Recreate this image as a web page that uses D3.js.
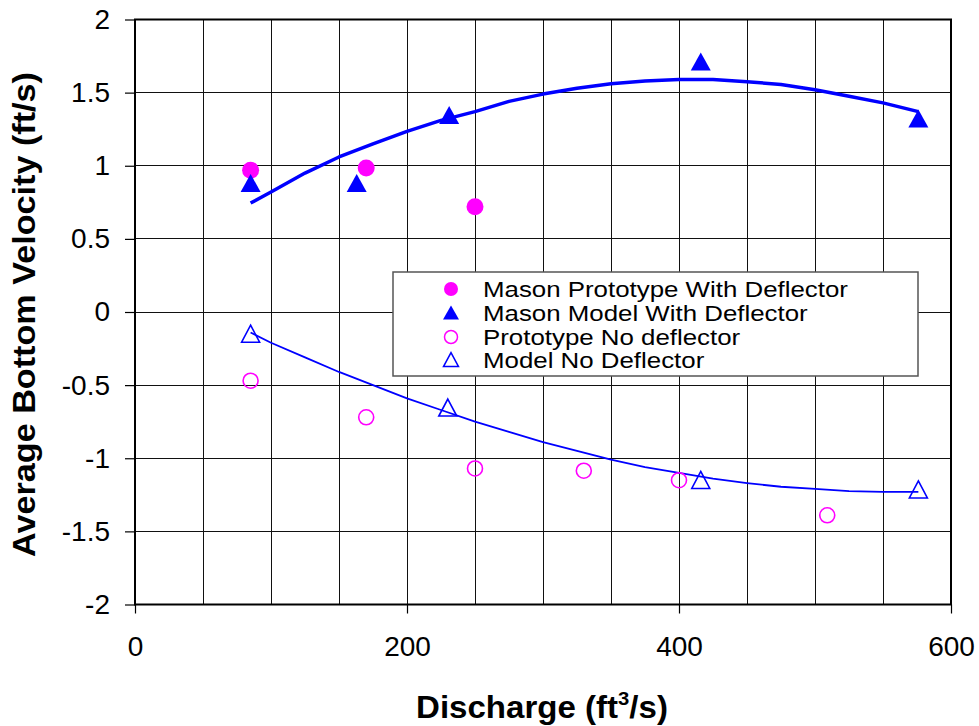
<!DOCTYPE html>
<html>
<head>
<meta charset="utf-8">
<script src="https://cdn.jsdelivr.net/npm/d3@7"></script>
<style>
  html, body { margin: 0; padding: 0; background: #fff; }
  svg { display: block; font-family: "Liberation Sans", Arial, sans-serif; }
</style>
</head>
<body>
<svg id="chart" width="979" height="726"></svg>
<script>
// ---- data ----
const protoWithX = [85, 170, 250];
const protoWithY = [0.97, 0.985, 0.72];

const modelWithX = [85, 163, 231, 416, 576];
const modelWithY = [0.87, 0.87, 1.335, 1.70, 1.31];

const protoNoX = [85, 170, 250, 330, 400, 509];
const protoNoY = [-0.47, -0.72, -1.07, -1.085, -1.15, -1.39];

const modelNoX = [85, 230, 416, 576];
const modelNoY = [-0.16, -0.665, -1.16, -1.225];

// trend lines
const trendWithX = [85, 100, 125, 150, 175, 200, 225, 250, 275, 300, 325, 350, 375, 400, 425, 450, 475, 500, 525, 550, 576];
const trendWithY = [0.745, 0.82, 0.95, 1.06, 1.15, 1.235, 1.31, 1.37, 1.44, 1.49, 1.53, 1.56, 1.58, 1.59, 1.59, 1.575, 1.555, 1.52, 1.475, 1.43, 1.37];

const trendNoX = [85, 100, 125, 150, 175, 200, 225, 250, 275, 300, 325, 350, 375, 400, 425, 450, 475, 500, 525, 550, 576];
const trendNoY = [-0.14, -0.21, -0.31, -0.41, -0.50, -0.59, -0.67, -0.75, -0.82, -0.89, -0.95, -1.01, -1.06, -1.10, -1.14, -1.17, -1.195, -1.21, -1.225, -1.23, -1.23];

const xTickValues = [0, 200, 400, 600];
const xTickLabels = ["0", "200", "400", "600"];
const yTickValues = [2, 1.5, 1, 0.5, 0, -0.5, -1, -1.5, -2];
const yTickLabels = ["2", "1.5", "1", "0.5", "0", "-0.5", "-1", "-1.5", "-2"];

const legendLabels = ["Mason Prototype With Deflector", "Mason Model With Deflector", "Prototype No deflector", "Model No Deflector"];

// ---- drawing ----
const svg = d3.select("#chart");
const L = 135, R = 951, T = 19.5, B = 604.5;
const x = d3.scaleLinear().domain([0, 600]).range([L, R]);
const y = d3.scaleLinear().domain([-2, 2]).range([B, T]);

const MAG = "#FF00FF", BLUE = "#0000FF";

// grid
const grid = svg.append("g");
grid.selectAll("line.v").data(d3.range(50, 600, 50)).join("line")
  .attr("x1", d => x(d)).attr("x2", d => x(d)).attr("y1", T).attr("y2", B)
  .attr("stroke", "#111").attr("stroke-width", 1).attr("shape-rendering", "crispEdges");
grid.selectAll("line.h").data(d3.range(-1.5, 2, 0.5)).join("line")
  .attr("x1", L).attr("x2", R).attr("y1", d => y(d)).attr("y2", d => y(d))
  .attr("stroke", "#111").attr("stroke-width", 1).attr("shape-rendering", "crispEdges");

// frame
svg.append("rect").attr("x", L).attr("y", T).attr("width", R - L).attr("height", B - T)
  .attr("fill", "none").attr("stroke", "#000").attr("stroke-width", 2);

// axes
const yAxis = d3.axisLeft(y).tickValues(yTickValues)
  .tickFormat((d, i) => yTickLabels[i]).tickSize(10).tickPadding(15).tickSizeOuter(0);
const gy = svg.append("g").attr("transform", `translate(${L},0)`).call(yAxis);
gy.select(".domain").remove();
gy.selectAll("line").attr("stroke", "#000").attr("stroke-width", 1.2);
gy.selectAll("text").attr("font-size", 28).attr("fill", "#000")
  .attr("font-family", "Liberation Sans, Arial, sans-serif");

const xAxis = d3.axisBottom(x).tickValues(xTickValues)
  .tickFormat((d, i) => xTickLabels[i]).tickSize(9).tickPadding(23).tickSizeOuter(0);
const gx = svg.append("g").attr("transform", `translate(0,${B})`).call(xAxis);
gx.select(".domain").remove();
gx.selectAll("line").attr("stroke", "#000").attr("stroke-width", 1.2);
gx.selectAll("text").attr("font-size", 28).attr("fill", "#000")
  .attr("font-family", "Liberation Sans, Arial, sans-serif");

// trend lines
const line = d3.line().x(d => x(d[0])).y(d => y(d[1]));
svg.append("path").datum(d3.zip(trendWithX, trendWithY)).attr("d", line)
  .attr("fill", "none").attr("stroke", BLUE).attr("stroke-width", 3.5).attr("stroke-linejoin", "round");
svg.append("path").datum(d3.zip(trendNoX, trendNoY)).attr("d", line)
  .attr("fill", "none").attr("stroke", BLUE).attr("stroke-width", 1.8).attr("stroke-linejoin", "round");

// markers
const triPath = (cx, cy, w, h) => `M${cx},${cy - h * 0.6}L${cx + w / 2},${cy + h * 0.4}L${cx - w / 2},${cy + h * 0.4}Z`;

svg.append("g").selectAll("circle").data(d3.zip(protoWithX, protoWithY)).join("circle")
  .attr("cx", d => x(d[0])).attr("cy", d => y(d[1])).attr("r", 8.5).attr("fill", MAG);

svg.append("g").selectAll("path").data(d3.zip(modelWithX, modelWithY)).join("path")
  .attr("d", d => triPath(x(d[0]), y(d[1]), 20, 18)).attr("fill", BLUE);

svg.append("g").selectAll("circle").data(d3.zip(protoNoX, protoNoY)).join("circle")
  .attr("cx", d => x(d[0])).attr("cy", d => y(d[1])).attr("r", 7.5)
  .attr("fill", "none").attr("stroke", MAG).attr("stroke-width", 1.6);

svg.append("g").selectAll("path").data(d3.zip(modelNoX, modelNoY)).join("path")
  .attr("d", d => triPath(x(d[0]), y(d[1]), 18, 17))
  .attr("fill", "none").attr("stroke", BLUE).attr("stroke-width", 1.6);

// legend
const lg = svg.append("g");
lg.append("rect").attr("x", 393).attr("y", 272).attr("width", 525).attr("height", 104)
  .attr("fill", "#fff").attr("stroke", "#555").attr("stroke-width", 1.5);
const rowY = [289, 313, 337, 360];
const mx = 451;
lg.append("circle").attr("cx", mx).attr("cy", rowY[0]).attr("r", 7).attr("fill", MAG);
lg.append("path").attr("d", triPath(mx, rowY[1] + 1, 16, 14)).attr("fill", BLUE);
lg.append("circle").attr("cx", mx).attr("cy", rowY[2]).attr("r", 6.5)
  .attr("fill", "none").attr("stroke", MAG).attr("stroke-width", 1.5);
lg.append("path").attr("d", triPath(mx, rowY[3] + 1, 15, 14))
  .attr("fill", "none").attr("stroke", BLUE).attr("stroke-width", 1.5);
const lt = lg.selectAll("text").data(legendLabels).join("text")
  .attr("x", 483).attr("y", (d, i) => rowY[i]).attr("dy", "0.36em")
  .attr("font-size", 22).attr("fill", "#000").text(d => d);
lt.each(function() {
  const w = this.getComputedTextLength();
  d3.select(this).attr("textLength", w * 1.175).attr("lengthAdjust", "spacingAndGlyphs");
});

// axis titles
const xt = svg.append("text").attr("x", 542).attr("y", 718).attr("text-anchor", "middle")
  .attr("font-size", 31).attr("font-weight", "bold").attr("fill", "#000");
xt.append("tspan").text("Discharge (ft");
xt.append("tspan").attr("font-size", 19).attr("dy", -13).text("3");
xt.append("tspan").attr("dy", 13).text("/s)");
{
  const w = xt.node().getComputedTextLength();
  const s = 252 / w;
  xt.attr("transform", `translate(542,0) scale(${s},1) translate(-542,0)`);
}

const yt = svg.append("text").attr("transform", "translate(35,314.5) rotate(-90)")
  .attr("text-anchor", "middle").attr("font-size", 31).attr("font-weight", "bold").attr("fill", "#000")
  .text("Average Bottom Velocity (ft/s)");
yt.attr("textLength", 485).attr("lengthAdjust", "spacingAndGlyphs");
</script>
</body>
</html>
